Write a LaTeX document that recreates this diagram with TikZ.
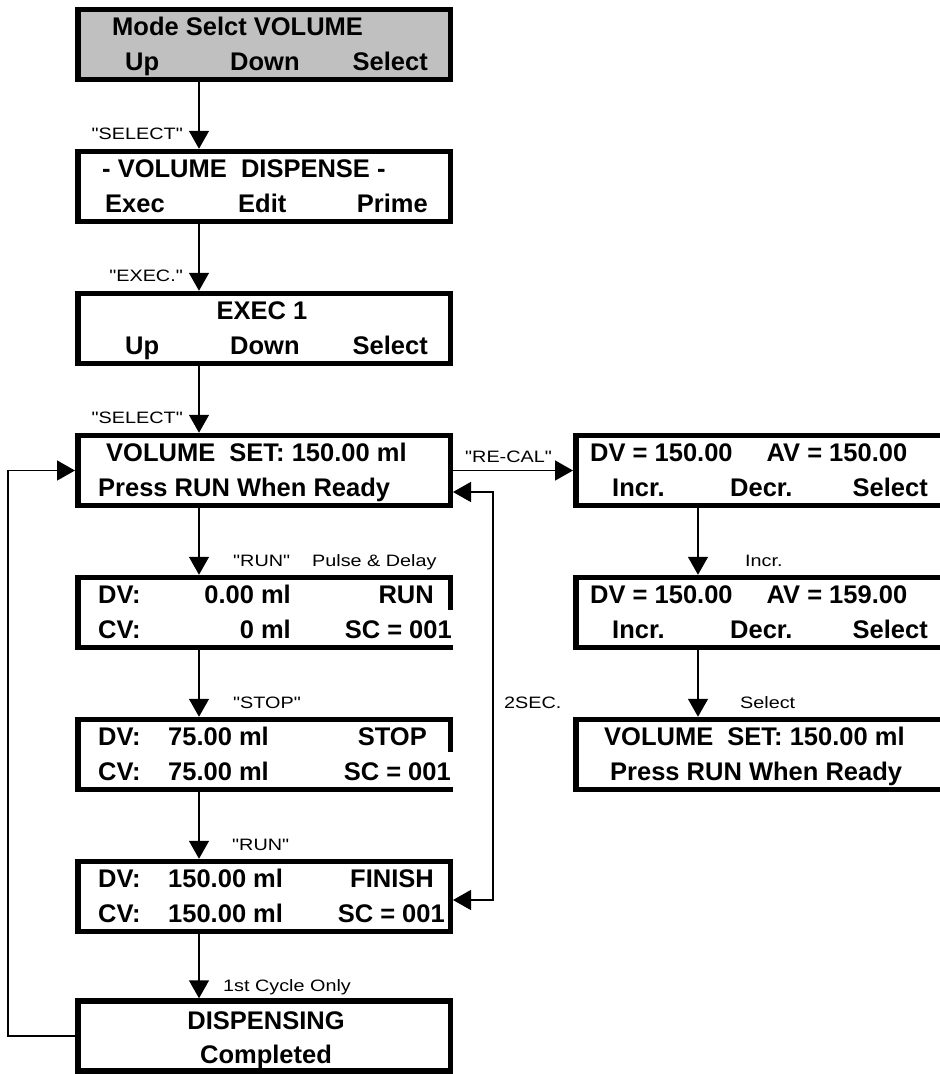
\documentclass[tikz,border=0pt]{standalone}
\usepackage{fontspec}
\setmainfont{Liberation Sans}
\newfontfamily\lcdfont[FakeStretch=1.2]{Liberation Sans}
\usepackage{xcolor}
\usepackage{tikz}
\usetikzlibrary{positioning, arrows.meta, calc}
\definecolor{lcdgray}{HTML}{C0C0C0}

\begin{document}
\begin{tikzpicture}[x=1pt, y=-1pt,
  lcd/.style={draw, line width=5.5pt, minimum width=372.5pt, minimum height=70pt, inner sep=0pt},
  big/.style={font=\fontsize{25.5}{30}\bfseries, inner sep=0pt},
  small/.style={font=\lcdfont\fontsize{16.5}{19}\selectfont, inner sep=0pt},
  cover/.style={big, fill=white, inner xsep=3pt, inner ysep=0pt, text height=28pt, text depth=7pt},
  flow/.style={line width=1.5pt, -{Triangle[length=18pt, width=20pt]}},
  flowback/.style={line width=1.5pt, {Triangle[length=18pt, width=20pt]}-{Triangle[length=18pt, width=20pt]}}]
\useasboundingbox (0,0) rectangle (940,1074);
% left column
\node[lcd, fill=lcdgray] (mode) at (264,44.5) {};
\node[lcd] (vdisp) at (264,186.5) {};
\node[lcd] (exec) at (264,328.5) {};
\node[lcd] (vset) at (264,470.5) {};
\node[lcd] (run) at (264,612.5) {};
\node[lcd] (stop) at (264,754.5) {};
\node[lcd] (finish) at (264,896.5) {};
\node[lcd] (done) at (264,1036) {};
% right column
\node[lcd] (recal) at (762,470.5) {};
\node[lcd] (incr) at (762,612.5) {};
\node[lcd] (vsetb) at (762,754.5) {};
% texts
\node[big, anchor=base west] (mode1) at (112,35) {Mode Selct VOLUME};
\node[big, anchor=base west] (mode2) at (125,70) {Up};
\node[big, anchor=base west] (mode3) at (230,70) {Down};
\node[big, anchor=base east] (mode4) at (428,70) {Select};
\node[big, anchor=base west] (vdisp1) at (102,177) {- VOLUME\ \ DISPENSE -};
\node[big, anchor=base west] (vdisp2) at (105,212) {Exec};
\node[big, anchor=base west] (vdisp3) at (238,212) {Edit};
\node[big, anchor=base east] (vdisp4) at (428,212) {Prime};
\node[big, anchor=base] (exec1) at (262,319) {EXEC 1};
\node[big, anchor=base west] (exec2) at (125,354) {Up};
\node[big, anchor=base west] (exec3) at (230,354) {Down};
\node[big, anchor=base east] (exec4) at (428,354) {Select};
\node[big, anchor=base west] (vset1) at (106,461) {VOLUME\ \ SET: 150.00 ml};
\node[big, anchor=base west] (vset2) at (98,496) {Press RUN When Ready};
\node[big, anchor=base west] (run1) at (98,603) {DV:};
\node[big, anchor=base east] (run2) at (291,603) {0.00 ml};
\node[big, anchor=base east] (run3) at (434,603) {RUN};
\node[big, anchor=base west] (run4) at (98,638) {CV:};
\node[big, anchor=base east] (run5) at (291,638) {0 ml};
\node[cover, anchor=base east] (run6) at (455,638) {SC = 001};
\node[big, anchor=base west] (stop1) at (98,745) {DV:};
\node[big, anchor=base west] (stop2) at (168,745) {75.00 ml};
\node[big, anchor=base east] (stop3) at (427,745) {STOP};
\node[big, anchor=base west] (stop4) at (98,780) {CV:};
\node[big, anchor=base west] (stop5) at (168,780) {75.00 ml};
\node[cover, anchor=base east] (stop6) at (454,780) {SC = 001};
\node[big, anchor=base west] (fin1) at (98,887) {DV:};
\node[big, anchor=base west] (fin2) at (168,887) {150.00 ml};
\node[big, anchor=base east] (fin3) at (434,887) {FINISH};
\node[big, anchor=base west] (fin4) at (98,922) {CV:};
\node[big, anchor=base west] (fin5) at (168,922) {150.00 ml};
\node[big, anchor=base east] (fin6) at (445,922) {SC = 001};
\node[big, anchor=base] (done1) at (266,1029) {DISPENSING};
\node[big, anchor=base] (done2) at (266,1063) {Completed};
\node[big, anchor=base west] (recal1) at (590,461) {DV = 150.00\hspace*{34pt}AV = 150.00};
\node[big, anchor=base west] (recal2) at (612,496) {Incr.};
\node[big, anchor=base west] (recal3) at (730,496) {Decr.};
\node[big, anchor=base east] (recal4) at (928,496) {Select};
\node[big, anchor=base west] (incr1) at (590,603) {DV = 150.00\hspace*{34pt}AV = 159.00};
\node[big, anchor=base west] (incr2) at (612,638) {Incr.};
\node[big, anchor=base west] (incr3) at (730,638) {Decr.};
\node[big, anchor=base east] (incr4) at (928,638) {Select};
\node[big, anchor=base west] (vsetb1) at (604,745) {VOLUME\ \ SET: 150.00 ml};
\node[big, anchor=base west] (vsetb2) at (610,780) {Press RUN When Ready};
% connectors
\coordinate (ax) at (199,0);
\coordinate (bx) at (698,0);
\coordinate (lx) at (8,0);
\coordinate (rx) at (493,0);
\draw[flow] (mode.south -| ax) -- (vdisp.north -| ax);
\draw[flow] (vdisp.south -| ax) -- (exec.north -| ax);
\draw[flow] (exec.south -| ax) -- (vset.north -| ax);
\draw[flow] (vset.south -| ax) -- (run.north -| ax);
\draw[flow] (run.south -| ax) -- (stop.north -| ax);
\draw[flow] (stop.south -| ax) -- (finish.north -| ax);
\draw[flow] (finish.south -| ax) -- (done.north -| ax);
\draw[flow] (recal.south -| bx) -- (incr.north -| bx);
\draw[flow] (incr.south -| bx) -- (vsetb.north -| bx);
\draw[flow] (vset) -- (recal);
\draw[flow] (done.west) -- (done.west -| lx) |- (vset.west);
\coordinate (back1) at ($(vset.east)+(0,21.5)$);
\coordinate (back2) at ($(finish.east)+(0,3.5)$);
\draw[flowback] (back1) -- (back1 -| rx) -- (back2 -| rx) -- (back2);
% labels
\node[small, anchor=base east] (lsel1) at (183,139) {"SELECT"};
\node[small, anchor=base east] (lexec) at (183,281) {"EXEC."};
\node[small, anchor=base east] (lsel2) at (183,423) {"SELECT"};
\node[small, anchor=base west] (lrun1) at (233,566) {"RUN"};
\node[small, anchor=base west] (lpulse) at (312,566) {Pulse \& Delay};
\node[small, anchor=base west] (lstop) at (233,708) {"STOP"};
\node[small, anchor=base west] (lrun2) at (232,850) {"RUN"};
\node[small, anchor=base west] (lfirst) at (223,991) {1st Cycle Only};
\node[small, anchor=base west] (lrecal) at (465,462) {"RE-CAL"};
\node[small, anchor=base west] (ltwo) at (504,708) {2SEC.};
\node[small, anchor=base west] (lincr) at (745,566) {Incr.};
\node[small, anchor=base west] (lselb) at (740,708) {Select};
\end{tikzpicture}
\end{document}
